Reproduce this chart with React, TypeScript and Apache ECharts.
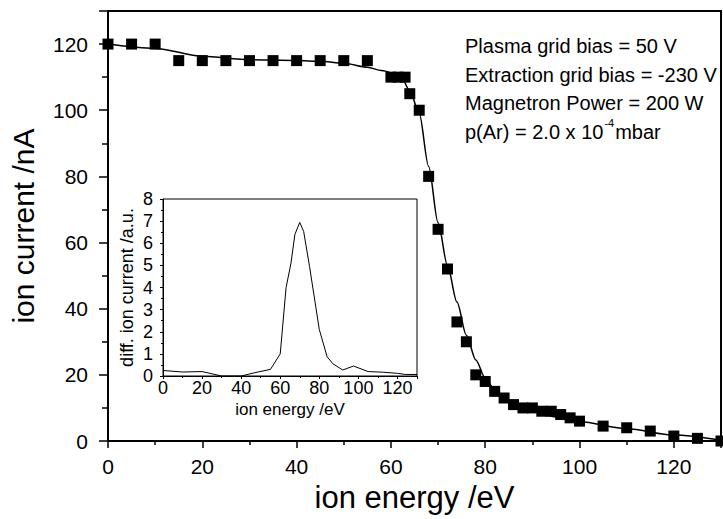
import React, { useEffect, useRef } from "react";
import * as echarts from "echarts";

const energies = [0, 5, 10, 15, 20, 25, 30, 35, 40, 45, 50, 55, 60, 61.5, 63, 64, 66, 68, 70, 72, 74, 76, 78, 80, 82, 84, 86, 88, 90, 92, 94, 96, 98, 100, 105, 110, 115, 120, 125, 130];
const currents = [120, 120, 120, 115, 115, 115, 115, 115, 115, 115, 115, 115, 110, 110, 110, 105, 100, 80, 64, 52, 36, 30, 20, 18, 15, 13, 11, 10, 10, 9, 9, 8, 7, 6, 4.5, 4, 3, 1.5, 0.8, 0];

const fitEnergy = [0, 10, 20, 30, 40, 45, 50, 55, 58, 62, 64, 66, 68, 70, 72, 74, 76, 78, 80, 82, 84, 86, 90, 95, 100, 110, 120, 130];
const fitCurrent = [120, 118.7, 116.3, 115.3, 115, 114.8, 114.2, 113, 112, 110.5, 106, 99, 83, 66, 53, 42, 32, 24.5, 19, 15.5, 13, 11, 9, 7.3, 5.8, 3.7, 1.8, 0.2];

const diffEnergy = [0, 10, 20, 30, 40, 47, 55, 60, 63, 65.5, 67.5, 70, 72, 75, 80, 84, 87, 92, 97.5, 105, 113, 120, 124, 130];
const diffValue = [0.25, 0.18, 0.2, 0, 0, 0.15, 0.3, 1.0, 4.0, 5.1, 6.4, 6.94, 6.53, 4.95, 2.1, 0.87, 0.55, 0.27, 0.45, 0.2, 0.17, 0.12, 0.07, 0.07];

const annotationLines = ["Plasma grid bias = 50 V", "Extraction grid bias = -230 V", "Magnetron Power = 200 W"];
const pressureText = { base: "p(Ar) = 2.0 x 10", exp: "-4", unit: "mbar" };

const FONT = "'Liberation Sans', Arial, Helvetica, sans-serif";

export default function App() {
  const ref = useRef<HTMLDivElement>(null);
  useEffect(() => {
    if (!ref.current) return;
    const chart = echarts.init(ref.current, null, { renderer: "svg" });
    const black = "#000";
    const mainAxisCommon = {
      axisLine: { show: true, lineStyle: { color: black, width: 2 } },
      splitLine: { show: false },
    };
    const option: any = {
      animation: false,
      backgroundColor: "#fff",
      textStyle: { fontFamily: FONT, color: black },
      grid: [
        { left: 107, top: 11, width: 614, height: 430, show: true, borderColor: black, borderWidth: 2, backgroundColor: "transparent" },
        { left: 163, top: 199, width: 254, height: 177, show: true, borderColor: black, borderWidth: 1, backgroundColor: "#fff" },
      ],
      xAxis: [
        {
          ...mainAxisCommon,
          gridIndex: 0,
          type: "value",
          min: 0,
          max: 130,
          interval: 20,
          name: "ion energy /eV",
          nameLocation: "middle",
          nameGap: 41,
          nameTextStyle: { fontSize: 31, fontFamily: FONT, color: black },
          axisTick: { show: true, inside: false, length: 7, lineStyle: { color: black, width: 1.5 } },
          minorTick: { show: true, splitNumber: 2, length: 4, lineStyle: { color: black, width: 1.5 } },
          axisLabel: { fontSize: 21, fontFamily: FONT, color: black, margin: 15, showMaxLabel: false },
        },
        {
          gridIndex: 1,
          type: "value",
          min: 0,
          max: 130,
          interval: 20,
          name: "ion energy /eV",
          nameLocation: "middle",
          nameGap: 25,
          nameTextStyle: { fontSize: 17, fontFamily: FONT, color: black },
          axisLine: { show: true, lineStyle: { color: black, width: 1 } },
          splitLine: { show: false },
          axisTick: { show: true, inside: false, length: 3, lineStyle: { color: black } },
          minorTick: { show: true, splitNumber: 2, length: 2, lineStyle: { color: black } },
          axisLabel: { fontSize: 18, fontFamily: FONT, color: black, margin: 3, showMaxLabel: false },
        },
      ],
      yAxis: [
        {
          ...mainAxisCommon,
          gridIndex: 0,
          type: "value",
          min: 0,
          max: 130,
          interval: 20,
          name: "ion current /nA",
          nameLocation: "middle",
          nameGap: 70,
          nameTextStyle: { fontSize: 30, fontFamily: FONT, color: black },
          axisTick: { show: true, inside: false, length: 9, lineStyle: { color: black, width: 1.5 } },
          minorTick: { show: true, splitNumber: 2, length: 6, lineStyle: { color: black, width: 1.5 } },
          axisLabel: { fontSize: 21, fontFamily: FONT, color: black, margin: 20, showMaxLabel: false },
        },
        {
          gridIndex: 1,
          type: "value",
          min: 0,
          max: 8,
          interval: 1,
          name: "diff. ion current /a.u.",
          nameLocation: "middle",
          nameGap: 27,
          nameTextStyle: { fontSize: 18, fontFamily: FONT, color: black },
          axisLine: { show: true, lineStyle: { color: black, width: 1 } },
          splitLine: { show: false },
          axisTick: { show: true, inside: false, length: 3, lineStyle: { color: black } },
          minorTick: { show: true, splitNumber: 2, length: 2, lineStyle: { color: black } },
          axisLabel: { fontSize: 18, fontFamily: FONT, color: black, margin: 10 },
        },
      ],
      series: [
        {
          type: "line",
          xAxisIndex: 0,
          yAxisIndex: 0,
          data: fitEnergy.map((e, i) => [e, fitCurrent[i]]),
          smooth: 0.3,
          smoothMonotone: "x",
          showSymbol: false,
          symbol: "none",
          lineStyle: { color: black, width: 1.5 },
          z: 2,
        },
        {
          type: "scatter",
          xAxisIndex: 0,
          yAxisIndex: 0,
          data: energies.map((e, i) => [e, currents[i]]),
          symbol: "rect",
          symbolSize: 11,
          itemStyle: { color: black, opacity: 1 },
          z: 3,
        },
        {
          type: "line",
          xAxisIndex: 1,
          yAxisIndex: 1,
          data: diffEnergy.map((e, i) => [e, diffValue[i]]),
          showSymbol: false,
          symbol: "none",
          lineStyle: { color: black, width: 1 },
          z: 5,
        },
      ],
      graphic: [
        ...annotationLines.map((t, i) => ({
          type: "text",
          left: 465,
          top: 36 + i * 28.5,
          z: 10,
          style: { text: t, fontSize: 20, fontFamily: FONT, fill: black },
        })),
        {
          type: "text",
          left: 465,
          top: 117,
          z: 10,
          style: {
            text: `{a|${pressureText.base}}{s|${pressureText.exp}}{a|${pressureText.unit}}`,
            fontFamily: FONT,
            fill: black,
            rich: {
              a: { fontSize: 20, fontFamily: FONT, fill: black, lineHeight: 25, verticalAlign: "bottom" },
              s: { fontSize: 11, fontFamily: FONT, fill: black, lineHeight: 25, verticalAlign: "top", padding: [0, 1, 0, 1] },
            },
          },
        },
      ],
    };
    chart.setOption(option);
    return () => chart.dispose();
  }, []);
  return <div ref={ref} style={{ position: "absolute", left: 0, top: 0, width: 723, height: 519 }} />;
}
